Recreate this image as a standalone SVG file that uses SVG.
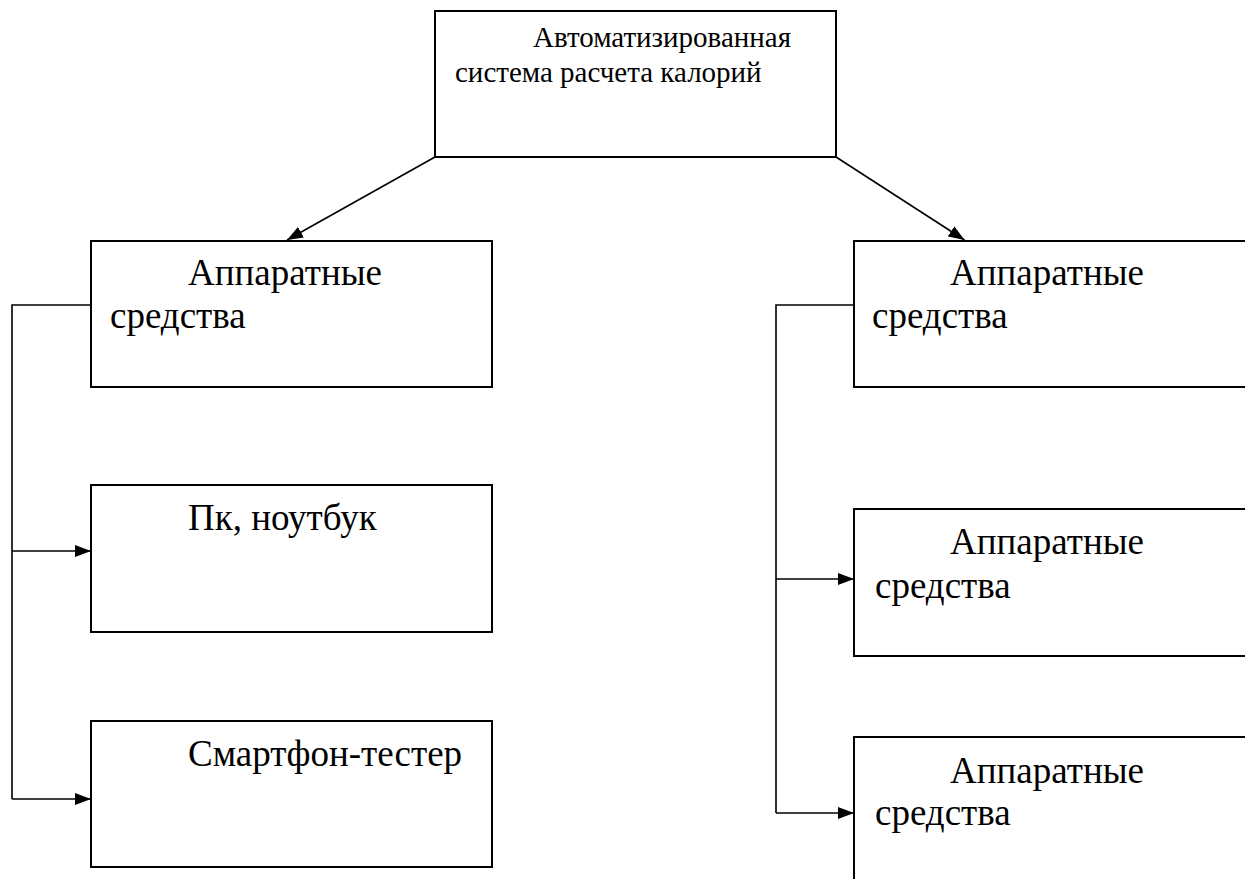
<svg xmlns="http://www.w3.org/2000/svg" width="1245" height="879" viewBox="0 0 1245 879">
  <style>
    .box { fill: #ffffff; stroke: #000000; stroke-width: 2; }
    .link { fill: none; stroke: #000000; stroke-width: 1.6; }
    .lbl { font-family: "Liberation Serif", "Times New Roman", serif; fill: #000000; }
    .big { font-size: 37px; }
    .small { font-size: 29px; }
  </style>
  <defs>
    <marker id="arrow" markerUnits="userSpaceOnUse" markerWidth="16" markerHeight="12" refX="16" refY="6" orient="auto">
      <path d="M0,0 L16,6 L0,12 z" fill="#000000"/>
    </marker>
  </defs>
  <rect width="1245" height="879" fill="#ffffff"/>

  <!-- connectors -->
  <g id="connectors">
    <line class="link" x1="435" y1="157" x2="287" y2="240" marker-end="url(#arrow)"/>
    <line class="link" x1="836" y1="157" x2="964.5" y2="240" marker-end="url(#arrow)"/>
    <polyline class="link" points="91,305 12,305 12,799"/>
    <line class="link" x1="12" y1="551" x2="91" y2="551" marker-end="url(#arrow)"/>
    <line class="link" x1="12" y1="799" x2="91" y2="799" marker-end="url(#arrow)"/>
    <polyline class="link" points="854,305 776,305 776,813"/>
    <line class="link" x1="776" y1="579" x2="854" y2="579" marker-end="url(#arrow)"/>
    <line class="link" x1="776" y1="813" x2="854" y2="813" marker-end="url(#arrow)"/>
  </g>

  <!-- root -->
  <g id="root">
    <rect class="box" x="435" y="11" width="401" height="146"/>
    <text class="lbl small" x="533" y="47">Автоматизированная</text>
    <text class="lbl small" x="455" y="82">система расчета калорий</text>
  </g>

  <!-- left branch -->
  <g id="left-hw">
    <rect class="box" x="91" y="241" width="401" height="146"/>
    <text class="lbl big" x="188" y="285">Аппаратные</text>
    <text class="lbl big" x="110" y="328">средства</text>
  </g>
  <g id="left-pc">
    <rect class="box" x="91" y="485" width="401" height="147"/>
    <text class="lbl big" x="188" y="530">Пк, ноутбук</text>
  </g>
  <g id="left-phone">
    <rect class="box" x="91" y="721" width="401" height="146"/>
    <text class="lbl big" x="188" y="766">Смартфон-тестер</text>
  </g>

  <!-- right branch -->
  <g id="right-hw">
    <rect class="box" x="854" y="241" width="450" height="146"/>
    <text class="lbl big" x="950" y="285">Аппаратные</text>
    <text class="lbl big" x="872" y="328">средства</text>
  </g>
  <g id="right-hw-2">
    <rect class="box" x="854" y="509" width="450" height="147"/>
    <text class="lbl big" x="950" y="554">Аппаратные</text>
    <text class="lbl big" x="875" y="598">средства</text>
  </g>
  <g id="right-hw-3">
    <rect class="box" x="854" y="737" width="450" height="200"/>
    <text class="lbl big" x="950" y="783">Аппаратные</text>
    <text class="lbl big" x="875" y="825">средства</text>
  </g>
</svg>
